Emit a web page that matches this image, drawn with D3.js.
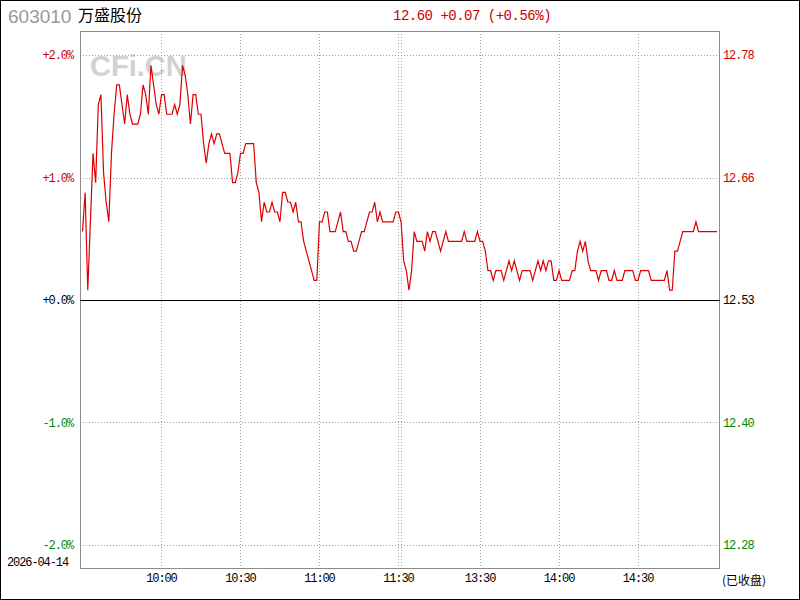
<!DOCTYPE html>
<html><head><meta charset="utf-8">
<script src="https://cdn.jsdelivr.net/npm/d3@7"></script>
<style>html,body{margin:0;padding:0;background:#fff;}svg{display:block;}</style>
</head><body>
<svg id="c" width="800" height="600"></svg>
<script>
// ---- data ----
const stockCode = "603010";
const stockName = "万盛股份";
const dateLabel = "2026-04-14";
const statusLabel = "(已收盘)";
const prevClose = 12.53;
const lastPrice = 12.60;
const headerText = "12.60 +0.07 (+0.56%)";
const pctTicks = [2, 1, 0, -1, -2];
const pctLabels = ["+2.0%", "+1.0%", "+0.0%", "-1.0%", "-2.0%"];
const priceLabels = ["12.78", "12.66", "12.53", "12.40", "12.28"];
const timeLabels = ["10:00", "10:30", "11:00", "11:30", "13:30", "14:00", "14:30"];
const timeIndex = [30, 60, 90, 120, 151, 181, 211];
const gridIndex = [30, 60, 90, 120, 121, 151, 181, 211];
const morningPrices = [
 12.60,12.64,12.54,12.61,12.68,12.65,12.73,12.74,12.66,12.63,
 12.61,12.68,12.72,12.75,12.75,12.73,12.71,12.74,12.72,12.71,
 12.71,12.71,12.72,12.75,12.74,12.72,12.77,12.75,12.73,12.72,
 12.74,12.74,12.72,12.72,12.72,12.73,12.72,12.73,12.77,12.76,
 12.74,12.71,12.74,12.74,12.72,12.72,12.69,12.67,12.69,12.70,
 12.69,12.70,12.70,12.69,12.68,12.68,12.68,12.65,12.65,12.66,
 12.68,12.68,12.69,12.69,12.69,12.69,12.65,12.64,12.61,12.63,
 12.62,12.62,12.63,12.62,12.62,12.61,12.64,12.64,12.63,12.63,
 12.62,12.63,12.61,12.61,12.59,12.58,12.57,12.56,12.55,12.55,
 12.61,12.61,12.62,12.62,12.60,12.60,12.60,12.61,12.62,12.60,
 12.60,12.59,12.59,12.58,12.58,12.59,12.60,12.60,12.61,12.62,
 12.62,12.63,12.61,12.62,12.61,12.61,12.61,12.61,12.61,12.62,
 12.62
];
const afternoonPrices = [
 12.61,12.57,12.56,12.54,12.56,12.60,12.59,12.59,12.59,12.58,
 12.60,12.59,12.60,12.60,12.59,12.58,12.59,12.60,12.59,12.59,
 12.59,12.59,12.59,12.59,12.60,12.59,12.59,12.59,12.59,12.60,
 12.59,12.59,12.58,12.56,12.56,12.55,12.56,12.56,12.56,12.55,
 12.56,12.57,12.56,12.57,12.56,12.55,12.56,12.56,12.56,12.56,
 12.55,12.56,12.57,12.56,12.57,12.56,12.57,12.57,12.55,12.55,
 12.56,12.55,12.55,12.55,12.55,12.56,12.56,12.58,12.59,12.58,
 12.59,12.57,12.56,12.56,12.56,12.55,12.56,12.56,12.56,12.55,
 12.55,12.56,12.55,12.55,12.55,12.56,12.56,12.56,12.56,12.55,
 12.55,12.56,12.56,12.56,12.56,12.55,12.55,12.55,12.55,12.55,
 12.55,12.56,12.54,12.54,12.58,12.58,12.59,12.60,12.60,12.60,
 12.60,12.60,12.61,12.60,12.60,12.60,12.60,12.60,12.60,12.60,
 12.60
];
const prices = morningPrices.concat(afternoonPrices);

// ---- layout ----
const W = 800, H = 600;
const plot = {left: 80, top: 31, right: 720, bottom: 569};
const RED = "#cc0000", GREEN = "#008800", LINE = "#dd0000";
const MONO = "'Liberation Mono','DejaVu Sans Mono',monospace";

const svg = d3.select("#c");
const x = d3.scaleLinear().domain([0, 241]).range([82.5, 717]);
const y = d3.scaleLinear().domain([-2.196, 2.196]).range([plot.bottom, plot.top]);
const pct = p => (p - prevClose) / prevClose * 100;
const colorFor = v => v > 0 ? RED : (v < 0 ? GREEN : "#000");

// outer frame
svg.append("rect").attr("x",0.5).attr("y",0.5).attr("width",W-1).attr("height",H-1)
  .attr("fill","#fff").attr("stroke","#000").attr("stroke-width",1);

// watermark
svg.append("text").attr("x",90).attr("y",76).text("CFi.CN")
  .attr("font-family","'Liberation Sans',Arial,sans-serif").attr("font-weight","bold")
  .attr("font-size",29).attr("fill","#d2d2d2");

// horizontal grid
const hg = svg.append("g").attr("shape-rendering","crispEdges");
pctTicks.filter(v => v !== 0).forEach(v => {
  hg.append("line").attr("x1",plot.left).attr("x2",plot.right)
    .attr("y1",Math.round(y(v))+0.5).attr("y2",Math.round(y(v))+0.5)
    .attr("stroke","#a0a0a0").attr("stroke-dasharray","1,2");
});
// vertical grid
gridIndex.forEach(i => {
  hg.append("line").attr("y1",plot.top).attr("y2",plot.bottom)
    .attr("x1",Math.round(x(i))+0.5).attr("x2",Math.round(x(i))+0.5)
    .attr("stroke","#a0a0a0").attr("stroke-dasharray","1,2");
});

// plot border
svg.append("rect").attr("x",plot.left+0.5).attr("y",plot.top+0.5)
  .attr("width",plot.right-plot.left-1).attr("height",plot.bottom-plot.top-1)
  .attr("fill","none").attr("stroke","#8c8c8c").attr("shape-rendering","crispEdges");

// zero line
svg.append("line").attr("x1",plot.left).attr("x2",plot.right)
  .attr("y1",Math.round(y(0))+0.5).attr("y2",Math.round(y(0))+0.5)
  .attr("stroke","#000").attr("shape-rendering","crispEdges");

// price line
const line = d3.line().x((d,i) => x(i)).y(d => y(pct(d)));
svg.append("path").datum(prices).attr("d", line)
  .attr("fill","none").attr("stroke",LINE).attr("stroke-width",1.2);

// axis labels
const LBL = 12, LS = "-1.1px";
pctTicks.forEach((v,k) => {
  svg.append("text").attr("x",73).attr("y",y(v)).attr("dy","0.35em")
    .attr("text-anchor","end").text(pctLabels[k])
    .attr("font-family",MONO).attr("font-size",LBL).attr("letter-spacing",LS)
    .attr("fill",colorFor(v));
  svg.append("text").attr("x",723).attr("y",y(v)).attr("dy","0.35em")
    .attr("text-anchor","start").text(priceLabels[k])
    .attr("font-family",MONO).attr("font-size",LBL).attr("letter-spacing",LS)
    .attr("fill",colorFor(v));
});

// time labels
timeIndex.forEach((i,k) => {
  svg.append("text").attr("x",x(i)).attr("y",582).attr("text-anchor","middle")
    .text(timeLabels[k]).attr("font-family",MONO).attr("font-size",LBL)
    .attr("letter-spacing",LS).attr("fill","#000");
});

svg.append("text").attr("x",7).attr("y",566).text(dateLabel)
  .attr("font-family",MONO).attr("font-size",LBL).attr("letter-spacing",LS).attr("fill","#000");
svg.append("text").attr("x",722).attr("y",585).text(statusLabel)
  .attr("font-family","'Noto Sans CJK SC',sans-serif").attr("font-size",12).attr("fill","#000");

// header
svg.append("text").attr("x",8).attr("y",23).text(stockCode)
  .attr("font-family","'Liberation Sans',Arial,sans-serif").attr("font-size",19).attr("fill","#999");
svg.append("text").attr("x",78).attr("y",21).text(stockName)
  .attr("font-family","'Noto Sans CJK SC',sans-serif").attr("font-size",16).attr("fill","#000");
svg.append("text").attr("x",393).attr("y",20).text(headerText)
  .attr("font-family",MONO).attr("font-size",14).attr("letter-spacing","-0.5px")
  .attr("fill", lastPrice >= prevClose ? RED : GREEN).attr("xml:space","preserve");
</script>
</body></html>
